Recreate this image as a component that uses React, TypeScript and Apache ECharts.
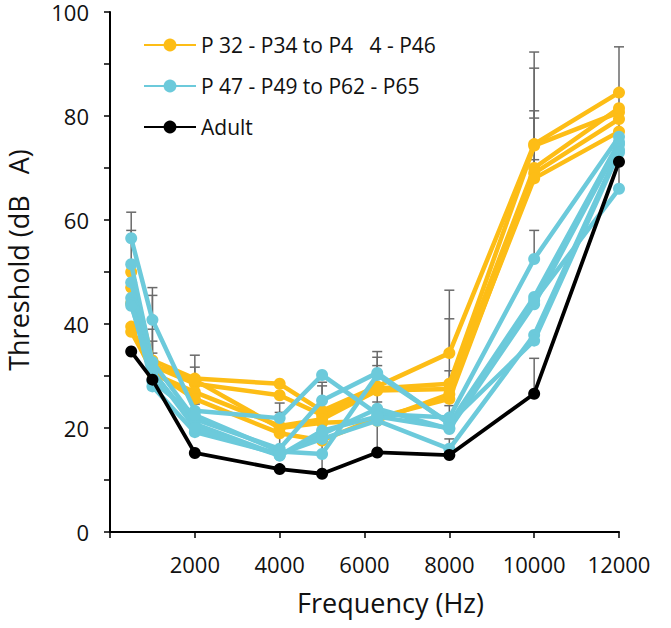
import React, { useEffect, useRef } from "react";
import * as echarts from "echarts";

const freqs = [500, 1000, 2000, 4000, 5000, 6300, 8000, 10000, 12000];

const orange1 = [50, 33, 29.5, 28.5, 23.3, 28, 34.4, 74.6, 84.5];
const orange2 = [47, 32, 28.5, 26.3, 22.5, 27.6, 28.5, 74.3, 80.7];
const orange3 = [39.5, 30.5, 26.9, 20.4, 21.7, 27.2, 27.5, 70, 81.5];
const orange4 = [38.5, 31, 25.6, 19, 17.6, 22, 25.6, 69, 79.4];
const orange5 = [44, 32, 29.2, 20, 21, 21.4, 26.5, 68, 77];
const orangeLines = [orange1, orange2, orange3, orange4, orange5];

const blue1 = [56.5, 40.8, 23.3, 21.9, 30.2, 22.7, 22, 52.5, 76];
const blue2 = [51.5, 32.7, 21.7, 16, 25.3, 30.6, 20.8, 45.2, 75];
const blue3 = [48, 30.8, 20.8, 14.7, 18.8, 23.7, 19.8, 43.8, 74.5];
const blue4 = [45, 28, 19.2, 15, 17.9, 21.4, 16, 37.9, 73.5];
const blue5 = [44, 29, 22.5, 15.5, 15, 30.2, 21, 36.8, 73];
const blue6 = [43.5, 31, 20, 14.7, 19.5, 22.2, 20, 44.5, 66];
const blueLines = [blue1, blue2, blue3, blue4, blue5, blue6];

const adult = [34.7, 29.3, 15.2, 12.1, 11.2, 15.3, 14.8, 26.6, 71.2];

// [frequency, bar start, bar end (cap)]
const errorBars = [
  [500, 56.5, 61.5], [500, 47, 58],
  [1000, 40.8, 47], [1000, 32.7, 45.5], [1000, 32, 39], [1000, 30.8, 36.7], [1000, 29.3, 34.4],
  [2000, 29.5, 34], [2000, 26.9, 31.7], [2000, 19.2, 24.6],
  [4000, 20.4, 24.8], [4000, 15.6, 23],
  [5000, 23.3, 28.8], [5000, 11.2, 28.1],
  [6300, 30.6, 34.7], [6300, 27.8, 33.6], [6300, 23.7, 32], [6300, 15.3, 25],
  [8000, 34.4, 46.5], [8000, 28.5, 41], [8000, 25.6, 31], [8000, 20.8, 24.3], [8000, 14.8, 17.9],
  [10000, 74.6, 92.3], [10000, 74.3, 89.2], [10000, 70, 81], [10000, 69, 79.6], [10000, 68, 71.6],
  [10000, 52.5, 58], [10000, 26.6, 33.4],
  [12000, 84.5, 93.3], [12000, 66, 84.9],
];

const ORANGE_NAME = "P 32 - P34 to P4\u00a0\u00a0 4 - P46";
const BLUE_NAME = "P 47 - P49 to P62 - P65";
const ADULT_NAME = "Adult";
const legendNames = [ORANGE_NAME, BLUE_NAME, ADULT_NAME];

const ORANGE = "#FDBD16";
const BLUE = "#6CCADB";
const BLACK = "#000000";
const FONT = "Open Sans";

export default function App() {
  const ref = useRef<HTMLDivElement>(null);
  useEffect(() => {
    if (!ref.current) return;
    const chart = echarts.init(ref.current, null, { renderer: "svg" });
    const mk = (vals: number[]) => vals.map((v, i) => [freqs[i], v]);
    const lineSeries = (name: string, vals: number[], color: string, width: number, z: number) => ({
      type: "line",
      name,
      data: mk(vals),
      symbol: "circle",
      symbolSize: 12,
      lineStyle: { color, width },
      itemStyle: { color },
      z,
    });
    const series: any[] = [
      {
        type: "custom",
        name: "err",
        data: errorBars,
        encode: { x: 0, y: [1, 2] },
        z: 1,
        renderItem: (params: any, api: any) => {
          const x = api.value(0);
          const p1 = api.coord([x, api.value(1)]);
          const p2 = api.coord([x, api.value(2)]);
          const st = { stroke: "#6a6a6a", lineWidth: 1.5 };
          return {
            type: "group",
            children: [
              { type: "line", shape: { x1: p1[0], y1: p1[1], x2: p2[0], y2: p2[1] }, style: st },
              { type: "line", shape: { x1: p2[0] - 5, y1: p2[1], x2: p2[0] + 5, y2: p2[1] }, style: st },
            ],
          };
        },
      },
      ...orangeLines.map((v) => lineSeries(ORANGE_NAME, v, ORANGE, 4.5, 2)),
      ...blueLines.map((v) => lineSeries(BLUE_NAME, v, BLUE, 4.5, 3)),
      lineSeries(ADULT_NAME, adult, BLACK, 3.8, 4),
    ];
    chart.setOption({
      animation: false,
      grid: { left: 110, right: 52, top: 12, bottom: 96, containLabel: false, outerBoundsMode: "none" },
      legend: {
        data: legendNames,
        orient: "vertical",
        left: 138,
        top: 29,
        itemWidth: 52,
        itemHeight: 16,
        itemGap: 19,
        textStyle: { fontFamily: FONT, fontSize: 21, color: "#111", lineHeight: 22 },
        selectedMode: false,
      },
      xAxis: {
        type: "value",
        min: 0,
        max: 12000,
        interval: 2000,
        name: "Frequency (Hz)",
        nameLocation: "middle",
        nameGap: 57,
        nameTextStyle: { fontFamily: FONT, fontSize: 27, color: "#111", padding: [0, 0, 0, 52] },
        axisLine: { show: true, lineStyle: { color: "#000", width: 2 } },
        axisTick: { show: true, length: 6, lineStyle: { color: "#000", width: 1.5 } },
        axisLabel: {
          fontFamily: FONT,
          fontSize: 22,
          color: "#111",
          margin: 21,
          formatter: (v: number) => (v === 0 ? "" : String(v)),
        },
        splitLine: { show: false },
      },
      yAxis: {
        type: "value",
        min: 0,
        max: 100,
        interval: 10,
        name: "Threshold (dB\u00a0\u00a0\u00a0A)",
        nameLocation: "middle",
        nameGap: 78,
        nameTextStyle: { fontFamily: FONT, fontSize: 27, color: "#111", padding: [0, 0, 0, 24] },
        axisLine: { show: true, lineStyle: { color: "#000", width: 2 } },
        axisTick: { show: true, length: 6, lineStyle: { color: "#000", width: 1.5 } },
        axisLabel: {
          fontFamily: FONT,
          fontSize: 22,
          color: "#111",
          margin: 21,
          lineHeight: 14,
          padding: [8, 0, 0, 0],
          formatter: (v: number) => (v % 20 === 0 ? String(v) : ""),
        },
        splitLine: { show: false },
      },
      series,
    });
    return () => chart.dispose();
  }, []);
  return (
    <div
      ref={ref}
      style={{ position: "absolute", left: 0, top: 0, width: 671, height: 628 }}
    />
  );
}
